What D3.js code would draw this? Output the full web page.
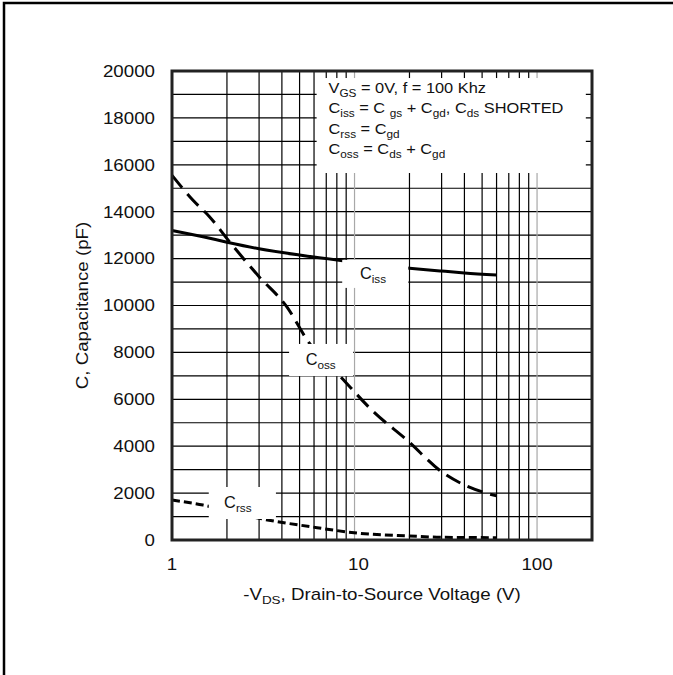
<!DOCTYPE html>
<html>
<head>
<meta charset="utf-8">
<script src="https://cdn.jsdelivr.net/npm/d3@7"></script>
<style>
  html, body { margin: 0; background: #fff; overflow: hidden; }
  svg { display: block; }
  text { font-family: Arial, "Liberation Sans", sans-serif; fill: #111; }
</style>
</head>
<body>
<div id="vis"></div>
<script>
'use strict'

// data: [ -VDS (V), C (pF) ]
const cissData = [[1, 13200], [1.5, 12920], [2, 12700], [3, 12420], [5, 12150], [8.4, 11920], [20, 11590], [30, 11470], [40, 11390], [60, 11300]];
const cossData = [[1, 15550], [1.3, 14500], [1.6, 13800], [2.1, 12650], [3, 11230], [4.25, 9950], [5.6, 8440], [8.4, 6960], [12.7, 5470], [19.4, 4260], [30, 2910], [40, 2345], [60, 1880]];
const crssData = [[1, 1705], [1.48, 1490], [2, 1250], [3, 925], [5.7, 570], [10.7, 285], [20, 170], [30, 115], [60, 100]];

const yTicks = [0, 2000, 4000, 6000, 8000, 10000, 12000, 14000, 16000, 18000, 20000];
const yGrid = d3.range(1000, 20000, 1000);
const xTicks = [1, 10, 100];
const xGridBlack = [2, 3, 4, 5, 6, 7, 8, 9, 20, 30, 40, 50, 60, 70, 80, 90];
const xGridGray = [10, 100];

const legendLines = [
  [["V", ""], ["GS", "sub"], [" = 0V, f = 100 Khz", ""]],
  [["C", ""], ["iss", "sub"], [" = C ", ""], ["gs", "sub"], [" + C", ""], ["gd", "sub"], [", C", ""], ["ds", "sub"], [" SHORTED", ""]],
  [["C", ""], ["rss", "sub"], [" = C", ""], ["gd", "sub"]],
  [["C", ""], ["oss", "sub"], [" = C", ""], ["ds", "sub"], [" + C", ""], ["gd", "sub"]]
];

////////////////////////////////////////
////////////// SVG Setup ///////////////
////////////////////////////////////////

const width = 673, height = 675;
const margin = { top: 71, right: 81, bottom: 135, left: 172 };
const w = width - margin.left - margin.right;
const h = height - margin.top - margin.bottom;

// the source font is drawn a bit wider than Arial
const stretch = 1.17;

const svg = d3.select('#vis').append('svg')
  .attr('width', width)
  .attr('height', height);

// outer frame: only its top and left edges fall inside the picture
svg.append('path')
  .attr('d', d3.line()([[4, height + 10], [4, 3], [width + 10, 3]]))
  .attr('fill', 'none')
  .attr('stroke', '#000')
  .attr('stroke-width', 2.5);

const g = svg.append('g')
  .attr('transform', `translate(${margin.left},${margin.top})`);

////////////////////////////////////////
////////////// Scales //////////////////
////////////////////////////////////////

const x = d3.scaleLog().domain([1, 200]).range([0, w]);
const y = d3.scaleLinear().domain([0, 20000]).range([h, 0]);

////////////////////////////////////////
////////////// Grid ////////////////////
////////////////////////////////////////

g.selectAll('.hgrid')
  .data(yGrid)
  .join('line')
  .attr('x1', 0).attr('x2', w)
  .attr('y1', d => y(d)).attr('y2', d => y(d))
  .attr('stroke', '#000').attr('stroke-width', 1.2);

g.selectAll('.vgrid')
  .data(xGridBlack)
  .join('line')
  .attr('x1', d => x(d)).attr('x2', d => x(d))
  .attr('y1', 0).attr('y2', h)
  .attr('stroke', '#000').attr('stroke-width', 1.2);

g.selectAll('.vgray')
  .data(xGridGray)
  .join('line')
  .attr('x1', d => x(d)).attr('x2', d => x(d))
  .attr('y1', 0).attr('y2', h)
  .attr('stroke', '#a8a8a8').attr('stroke-width', 1.2);

////////////////////////////////////////
////////////// Curves //////////////////
////////////////////////////////////////

const line = d3.line()
  .x(d => x(d[0]))
  .y(d => y(d[1]))
  .curve(d3.curveMonotoneX);

g.append('path').datum(cissData)
  .attr('d', line).attr('fill', 'none')
  .attr('stroke', '#000').attr('stroke-width', 3);

g.append('path').datum(cossData)
  .attr('d', line).attr('fill', 'none')
  .attr('stroke', '#000').attr('stroke-width', 3)
  .attr('stroke-dasharray', '16,8');

g.append('path').datum(crssData)
  .attr('d', line).attr('fill', 'none')
  .attr('stroke', '#000').attr('stroke-width', 3)
  .attr('stroke-dasharray', '8,4');

////////////////////////////////////////
////////////// Labels //////////////////
////////////////////////////////////////

// text with subscripts, placed at (px, py) and stretched horizontally
function richText(parent, parts, size, px, py, sx, anchor) {
  const t = parent.append('text')
    .attr('transform', `translate(${px},${py}) scale(${sx},1)`)
    .attr('text-anchor', anchor || 'start')
    .attr('font-size', size);
  parts.forEach((p, i) => {
    const prev = i > 0 ? parts[i - 1][1] : '';
    let dy = 0;
    if (p[1] == 'sub' && prev != 'sub') dy = 4;
    if (p[1] != 'sub' && prev == 'sub') dy = -4;
    t.append('tspan')
      .attr('font-size', p[1] == 'sub' ? size * 0.72 : size)
      .attr('dy', dy)
      .text(p[0]);
  });
  return t;
}

// legend box
const lg = { x0: 6.2, x1: 185, y0: 19700, y1: 15650 };
g.append('rect')
  .attr('x', x(lg.x0)).attr('y', y(lg.y0))
  .attr('width', x(lg.x1) - x(lg.x0))
  .attr('height', y(lg.y1) - y(lg.y0))
  .attr('fill', '#fff');

legendLines.forEach((parts, i) => {
  richText(g, parts, 14, x(7.2), y(19070) + i * 20.5, stretch);
});

// curve labels on white patches
const curveLabels = [
  { name: 'iss', x0: 8.56, x1: 19.7, y0: 11940, y1: 10750, tx: 10.7 },
  { name: 'oss', x0: 4.38, x1: 9.83, y0: 8360, y1: 6990, tx: 5.4 },
  { name: 'rss', x0: 1.59, x1: 3.71, y0: 2260, y1: 895, tx: 1.93 }
];

curveLabels.forEach(d => {
  g.append('rect')
    .attr('x', x(d.x0)).attr('y', y(d.y0))
    .attr('width', x(d.x1) - x(d.x0))
    .attr('height', y(d.y1) - y(d.y0))
    .attr('fill', '#fff');
  richText(g, [['C', ''], [d.name, 'sub']], 16, x(d.tx), (y(d.y0) + y(d.y1)) / 2 + 5, 1.02);
});

// plot border
g.append('rect')
  .attr('width', w).attr('height', h)
  .attr('fill', 'none')
  .attr('stroke', '#222').attr('stroke-width', 3);

////////////////////////////////////////
////////////// Axes ////////////////////
////////////////////////////////////////

yTicks.forEach(d => {
  g.append('text')
    .attr('transform', `translate(${-17},${y(d) + 5.8}) scale(${stretch},1)`)
    .attr('text-anchor', 'end')
    .attr('font-size', 16)
    .text(d);
});

xTicks.forEach(d => {
  g.append('text')
    .attr('transform', `translate(${x(d) + (d == 10 ? 4 : 0)},${h + 30}) scale(${stretch},1)`)
    .attr('text-anchor', 'middle')
    .attr('font-size', 16)
    .text(d);
});

richText(g, [['-V', ''], ['DS', 'sub'], [', Drain-to-Source Voltage (V)', '']], 16, w / 2, h + 60, stretch, 'middle');

g.append('text')
  .attr('transform', `translate(${-84},${h / 2}) rotate(-90) scale(${stretch},1)`)
  .attr('text-anchor', 'middle')
  .attr('font-size', 16)
  .text('C, Capacitance (pF)');
</script>
</body>
</html>
